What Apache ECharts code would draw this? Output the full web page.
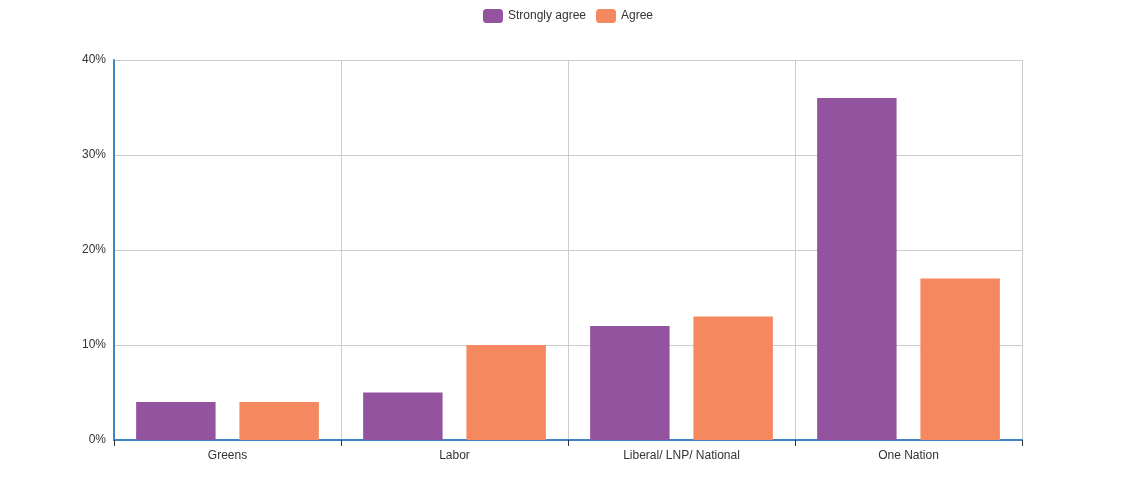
<!DOCTYPE html>
<html><head><meta charset="utf-8">
<script src="https://cdn.jsdelivr.net/npm/echarts@6/dist/echarts.min.js"></script>
<style>html,body{margin:0;padding:0;background:#fff}#c{width:1136px;height:500px}</style>
</head><body><div id="c"></div>
<script>
const categories = ["Greens", "Labor", "Liberal/ LNP/ National", "One Nation"];
const stronglyAgree = [4, 5, 12, 36];
const agree = [4, 10, 13, 17];
const yTicks = [0, 10, 20, 30, 40];

const chart = echarts.init(document.getElementById('c'), null, {renderer: 'canvas'});
chart.setOption({
  animation: false,
  textStyle: {fontFamily: 'Liberation Sans, Arial, sans-serif'},
  legend: {
    top: 4, left: 'center', icon: 'roundRect', itemWidth: 20, itemHeight: 14, itemGap: 10,
    textStyle: {fontSize: 12, color: '#333'}
  },
  grid: {left: 114, right: 114, top: 60, bottom: 60, containLabel: false},
  xAxis: {
    type: 'category', data: categories,
    axisLine: {lineStyle: {color: '#3f84c4', width: 2}},
    axisTick: {show: true, length: 6, lineStyle: {color: '#333'}},
    axisLabel: {color: '#333', fontSize: 12, margin: 10},
    splitLine: {show: true, lineStyle: {color: '#ccc'}}
  },
  yAxis: {
    type: 'value', min: yTicks[0], max: yTicks[yTicks.length - 1], interval: 10,
    axisLine: {show: true, lineStyle: {color: '#3f84c4', width: 2}},
    axisTick: {show: false},
    axisLabel: {color: '#333', fontSize: 12, formatter: '{value}%', margin: 8},
    splitLine: {show: true, lineStyle: {color: '#ccc'}}
  },
  series: [
    {name: 'Strongly agree', type: 'bar', data: stronglyAgree, barWidth: '35%', barGap: '30%',
     itemStyle: {color: '#93539f'}},
    {name: 'Agree', type: 'bar', data: agree, barWidth: '35%',
     itemStyle: {color: '#f5885f'}}
  ]
});
// right border of grid (vertical split line at end)
chart.setOption({
  graphic: []
});
</script></body></html>
